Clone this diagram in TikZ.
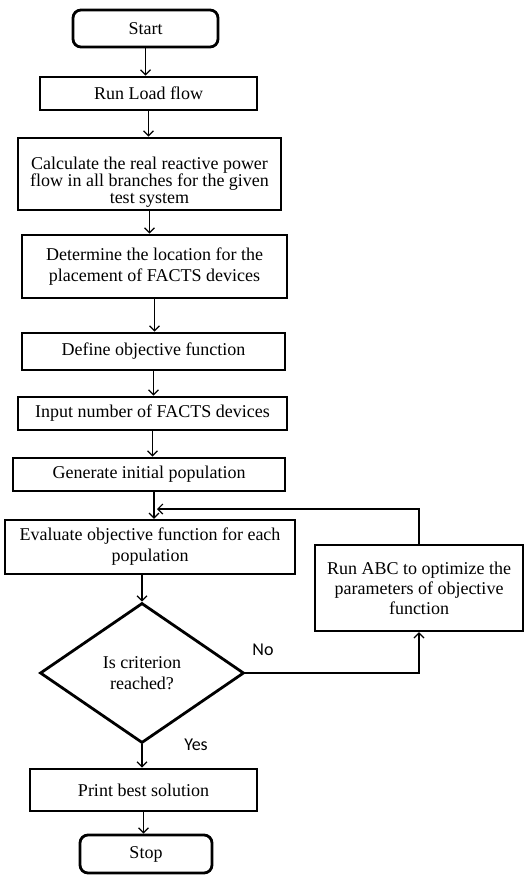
\documentclass[tikz,border=0pt]{standalone}
\usepackage{fontspec}
\setmainfont{Liberation Serif}
\newfontfamily\lblfont{Carlito}
\usetikzlibrary{arrows.meta,shapes.geometric}
\tikzset{
  x=1pt,y=-1pt,
  boxst/.style={draw,line width=2.8pt,inner sep=2pt,align=center,font=\fontsize{18}{21}\selectfont},
  termst/.style={boxst,rounded corners=8pt},
  decst/.style={draw,diamond,line width=2.8pt,inner sep=0pt,align=center,font=\fontsize{18}{21}\selectfont},
  arr/.style={line width=1.2pt,-{Straight Barb[length=5pt,width=10pt]}},
  lbl/.style={font=\lblfont\fontsize{18}{20}\selectfont}
}
\begin{document}
\begin{tikzpicture}
\useasboundingbox (0,0) rectangle (523,875);
\node[termst,minimum width=145,minimum height=37] (start) at (145.5,28.5) {Start};
\node[boxst,minimum width=217,minimum height=33] (run) at (148.5,93.5) {Run Load flow};
\node[boxst,minimum width=263,minimum height=72,font=\fontsize{18}{17}\selectfont] (calc) at (149.5,174) {\rule{0pt}{28pt}Calculate the real reactive power\\flow in all branches for the given\\test system};
\node[boxst,minimum width=265,minimum height=63] (det) at (154.5,266.5) {Determine the location for the\\placement of FACTS devices};
\node[boxst,minimum width=263,minimum height=37] (def) at (153.5,351.5) {Define objective function};
\node[boxst,minimum width=269,minimum height=33] (inp) at (152.5,413.5) {Input number of FACTS devices};
\node[boxst,minimum width=272,minimum height=33] (gen) at (149,474.5) {Generate initial population};
\node[boxst,line width=2.3pt,minimum width=290,minimum height=54] (eval) at (150,547) {Evaluate objective function for each\\population};
\node[boxst,line width=2.3pt,minimum width=208,minimum height=86,font=\fontsize{18}{20}\selectfont] (abc) at (419,588) {Run ABC to optimize the\\parameters of objective\\function};
\node[decst,minimum width=204,minimum height=140] (dia) at (142,673) {Is criterion\\reached?};
\node[boxst,minimum width=227,minimum height=42] (print) at (143.5,790) {Print best solution};
\node[termst,minimum width=132,minimum height=38] (stop) at (146,854) {Stop};
\coordinate (loopend) at (157,509);

\draw[arr] (start.south) -- (start.south |- run.north);
\draw[arr] (run.south) -- (run.south |- calc.north);
\draw[arr] (calc.south) -- (calc.south |- det.north);
\draw[arr] (det.south) -- (det.south |- def.north);
\draw[arr] (def.south) -- (def.south |- inp.north);
\draw[arr] (inp.south) -- (inp.south |- gen.north);
\draw[arr] ([xshift=5pt]gen.south) -- ([xshift=5pt]gen.south |- eval.north);
\draw[arr] (eval.south -| dia.north) -- (dia.north);
\draw[arr] (dia.south) -- (dia.south |- print.north);
\draw[arr] (print.south) -- (print.south |- stop.north);
\draw[arr] (abc.north) |- (loopend);
\draw[arr] (dia.east) -| (abc.south);
\node[lbl] (no) at (263,650) {No};
\node[lbl] (yes) at (196,745) {Yes};
\end{tikzpicture}
\end{document}
